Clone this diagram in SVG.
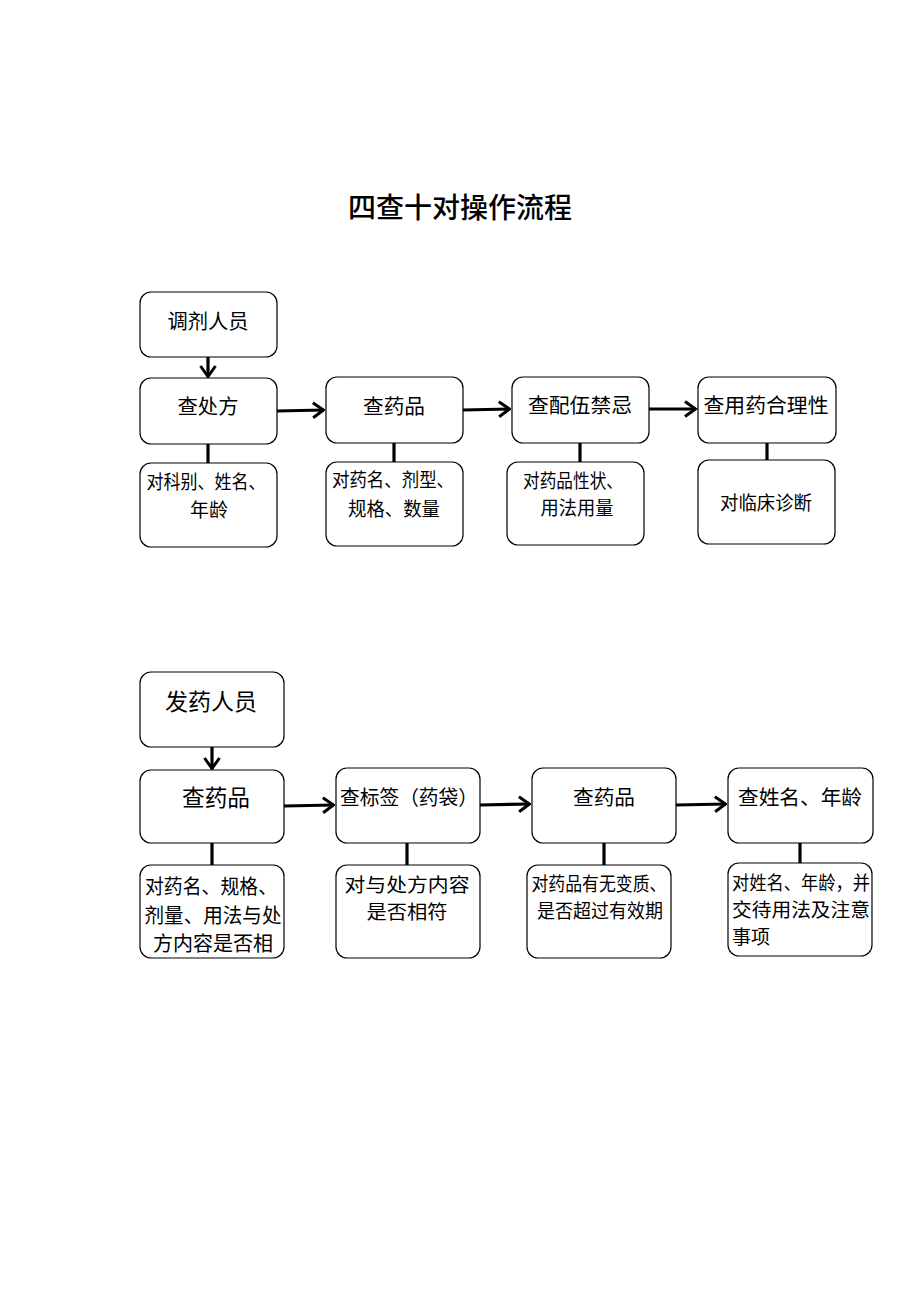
<svg xmlns="http://www.w3.org/2000/svg" width="920" height="1302" viewBox="0 0 920 1302">
<style>
.box{fill:#fff;stroke:#000;stroke-width:1.2}
.t{font-family:"Noto Sans CJK SC","Noto Sans",sans-serif;font-size:20px;fill:#000;text-anchor:middle}
.s{font-family:"Noto Sans CJK SC","Noto Sans",sans-serif;font-size:19px;fill:#000;text-anchor:middle}
.b{font-family:"Noto Sans CJK SC","Noto Sans",sans-serif;font-size:22.5px;fill:#000;text-anchor:middle}
.title{font-family:"Noto Sans CJK SC","Noto Sans",sans-serif;font-size:28px;font-weight:500;fill:#000;text-anchor:middle}
.c{stroke:#000;stroke-width:3.2;fill:none}
</style>
<defs>
<marker id="ah" viewBox="0 0 14 18" refX="12.5" refY="9" markerWidth="14" markerHeight="18" orient="auto" markerUnits="userSpaceOnUse">
<polyline points="1.5,1.5 12,9 1.5,16.5" fill="none" stroke="#000" stroke-width="3"/>
</marker>
</defs>
<rect width="920" height="1302" fill="#fff"/>
<text class="title" x="460" y="218">四查十对操作流程</text>

<g id="connectors">
<line class="c" x1="208" y1="357" x2="208" y2="377" marker-end="url(#ah)"/>
<line class="c" x1="277" y1="411" x2="324" y2="410" marker-end="url(#ah)"/>
<line class="c" x1="463" y1="410" x2="510" y2="409" marker-end="url(#ah)"/>
<line class="c" x1="649" y1="409" x2="696" y2="409" marker-end="url(#ah)"/>
<line class="c" x1="208" y1="444" x2="208" y2="463"/>
<line class="c" x1="394" y1="443" x2="394" y2="462"/>
<line class="c" x1="580" y1="443" x2="580" y2="462"/>
<line class="c" x1="767" y1="443" x2="767" y2="460"/>
<line class="c" x1="212" y1="747" x2="212" y2="769" marker-end="url(#ah)"/>
<line class="c" x1="284" y1="806" x2="334" y2="805" marker-end="url(#ah)"/>
<line class="c" x1="480" y1="805" x2="530" y2="804" marker-end="url(#ah)"/>
<line class="c" x1="676" y1="805" x2="726" y2="804" marker-end="url(#ah)"/>
<line class="c" x1="212" y1="843" x2="212" y2="865"/>
<line class="c" x1="407" y1="843" x2="407" y2="865"/>
<line class="c" x1="604" y1="843" x2="604" y2="865"/>
<line class="c" x1="800" y1="843" x2="800" y2="863"/>
</g>

<g id="n1"><rect class="box" x="140" y="292" width="137" height="65" rx="11"/><text class="t" x="208" y="329" textLength="81" lengthAdjust="spacingAndGlyphs">调剂人员</text></g>
<g id="n2"><rect class="box" x="140" y="378" width="137" height="66" rx="11"/><text class="t" x="208" y="414" textLength="61" lengthAdjust="spacingAndGlyphs">查处方</text></g>
<g id="n3"><rect class="box" x="326" y="377" width="137" height="66" rx="11"/><text class="t" x="394" y="414" textLength="62" lengthAdjust="spacingAndGlyphs">查药品</text></g>
<g id="n4"><rect class="box" x="512" y="377" width="137" height="66" rx="11"/><text class="t" x="580" y="413" textLength="104" lengthAdjust="spacingAndGlyphs">查配伍禁忌</text></g>
<g id="n5"><rect class="box" x="698" y="377" width="138" height="66" rx="11"/><text class="t" x="766" y="413" textLength="125" lengthAdjust="spacingAndGlyphs">查用药合理性</text></g>
<g id="n6"><rect class="box" x="140" y="463" width="137" height="84" rx="11"/><text class="s" x="206" y="489" textLength="119" lengthAdjust="spacingAndGlyphs">对科别、姓名、</text><text class="s" x="209" y="517" textLength="38" lengthAdjust="spacingAndGlyphs">年龄</text></g>
<g id="n7"><rect class="box" x="326" y="462" width="137" height="84" rx="11"/><text class="s" x="393" y="487" textLength="122" lengthAdjust="spacingAndGlyphs">对药名、剂型、</text><text class="s" x="394" y="516" textLength="92" lengthAdjust="spacingAndGlyphs">规格、数量</text></g>
<g id="n8"><rect class="box" x="507" y="462" width="137" height="83" rx="11"/><text class="s" x="573" y="488" textLength="100" lengthAdjust="spacingAndGlyphs">对药品性状、</text><text class="s" x="577" y="515" textLength="73" lengthAdjust="spacingAndGlyphs">用法用量</text></g>
<g id="n9"><rect class="box" x="698" y="460" width="137" height="84" rx="11"/><text class="s" x="766" y="510" textLength="92" lengthAdjust="spacingAndGlyphs">对临床诊断</text></g>

<g id="m1"><rect class="box" x="140" y="672" width="144" height="75" rx="11"/><text class="b" x="211" y="710" textLength="92" lengthAdjust="spacingAndGlyphs">发药人员</text></g>
<g id="m2"><rect class="box" x="140" y="770" width="144" height="73" rx="11"/><text class="b" x="216" y="806" textLength="68" lengthAdjust="spacingAndGlyphs">查药品</text></g>
<g id="m3"><rect class="box" x="336" y="768" width="144" height="75" rx="11"/><text class="t" x="409" y="805" textLength="138" lengthAdjust="spacingAndGlyphs">查标签（药袋）</text></g>
<g id="m4"><rect class="box" x="532" y="768" width="144" height="75" rx="11"/><text class="t" x="604" y="805" textLength="62" lengthAdjust="spacingAndGlyphs">查药品</text></g>
<g id="m5"><rect class="box" x="728" y="768" width="145" height="75" rx="11"/><text class="t" x="800" y="805" textLength="124" lengthAdjust="spacingAndGlyphs">查姓名、年龄</text></g>
<g id="m6"><rect class="box" x="140" y="865" width="144" height="93" rx="11"/><text class="t" x="211" y="894" textLength="132" lengthAdjust="spacingAndGlyphs">对药名、规格、</text><text class="t" x="213" y="923" textLength="137" lengthAdjust="spacingAndGlyphs">剂量、用法与处</text><text class="t" x="213" y="951" textLength="120" lengthAdjust="spacingAndGlyphs">方内容是否相</text></g>
<g id="m7"><rect class="box" x="336" y="865" width="144" height="93" rx="11"/><text class="s" x="407" y="892" textLength="125" lengthAdjust="spacingAndGlyphs">对与处方内容</text><text class="s" x="407" y="919" textLength="81" lengthAdjust="spacingAndGlyphs">是否相符</text></g>
<g id="m8"><rect class="box" x="527" y="865" width="144" height="93" rx="11"/><text class="s" x="599" y="891" textLength="135" lengthAdjust="spacingAndGlyphs">对药品有无变质、</text><text class="s" x="600" y="918" textLength="126" lengthAdjust="spacingAndGlyphs">是否超过有效期</text></g>
<g id="m9"><rect class="box" x="728" y="863" width="144" height="93" rx="11"/><text class="s" x="801" y="890" textLength="138" lengthAdjust="spacingAndGlyphs">对姓名、年龄，并</text><text class="s" x="801" y="917" textLength="138" lengthAdjust="spacingAndGlyphs">交待用法及注意</text><text class="s" x="751" y="944" textLength="38" lengthAdjust="spacingAndGlyphs">事项</text></g>
</svg>
